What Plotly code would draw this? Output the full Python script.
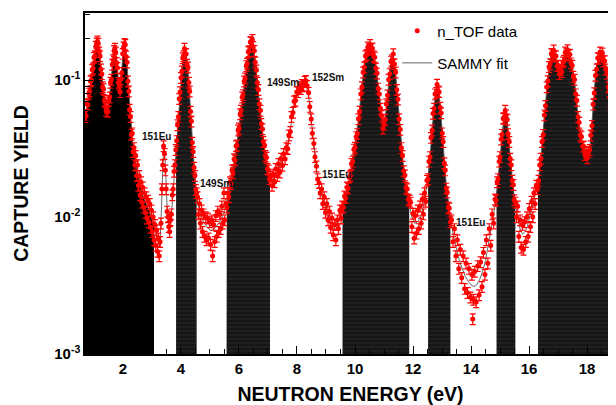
import numpy as np
import plotly.graph_objects as go

# ---------------- SAMMY fit curve ----------------
fit_energy = [0.69, 0.80, 0.90, 1.00, 1.06, 1.12, 1.18, 1.25, 1.32, 1.40, 1.46, 1.52, 1.60, 1.67, 1.72, 1.78,
              1.84, 1.90, 1.95, 2.00, 2.06, 2.12, 2.18, 2.25, 2.32, 2.40, 2.50, 2.60, 2.70, 2.80, 2.90, 3.00,
              3.10, 3.20, 3.27, 3.33, 3.38, 3.42, 3.46, 3.52, 3.58, 3.64, 3.70, 3.76, 3.82, 3.88, 3.94, 4.00,
              4.06, 4.12, 4.18, 4.24, 4.30, 4.36, 4.42, 4.48, 4.54, 4.62, 4.70, 4.80, 4.90, 5.00, 5.10, 5.20,
              5.30, 5.40, 5.50, 5.58, 5.66, 5.74, 5.82, 5.90, 5.98, 6.06, 6.14, 6.22, 6.30, 6.38, 6.43, 6.48,
              6.55, 6.62, 6.70, 6.78, 6.86, 6.94, 7.02, 7.10, 7.20, 7.30, 7.40, 7.50, 7.60, 7.70, 7.78, 7.86,
              7.94, 8.02, 8.10, 8.18, 8.26, 8.32, 8.38, 8.44, 8.50, 8.56, 8.62, 8.70, 8.78, 8.86, 8.94, 9.02,
              9.10, 9.18, 9.26, 9.32, 9.40, 9.50, 9.60, 9.70, 9.80, 9.90, 9.98, 10.06, 10.14, 10.22, 10.30, 10.38,
              10.46, 10.54, 10.62, 10.70, 10.78, 10.86, 10.92, 10.98, 11.04, 11.10, 11.16, 11.22, 11.28, 11.32, 11.38, 11.44,
              11.50, 11.56, 11.62, 11.70, 11.78, 11.86, 11.96, 12.06, 12.16, 12.26, 12.36, 12.44, 12.52, 12.60, 12.66, 12.72,
              12.78, 12.84, 12.90, 12.96, 13.02, 13.08, 13.14, 13.22, 13.30, 13.40, 13.50, 13.60, 13.70, 13.80, 13.90, 14.00,
              14.10, 14.20, 14.30, 14.40, 14.50, 14.60, 14.70, 14.80, 14.88, 14.96, 15.04, 15.10, 15.16, 15.20, 15.26, 15.32,
              15.38, 15.46, 15.54, 15.62, 15.70, 15.78, 15.86, 15.94, 16.02, 16.10, 16.18, 16.26, 16.34, 16.40, 16.46, 16.52,
              16.58, 16.64, 16.70, 16.76, 16.82, 16.88, 16.94, 17.00, 17.06, 17.12, 17.18, 17.24, 17.30, 17.36, 17.42, 17.50,
              17.58, 17.64, 17.70, 17.78, 17.86, 17.94, 18.02, 18.10, 18.16, 18.22, 18.28, 18.34, 18.40, 18.46, 18.52, 18.58,
              18.64, 18.72, 18.80, 18.88, 18.96, 19.04]
fit_yield = [0.050, 0.070, 0.100, 0.140, 0.170, 0.185, 0.165, 0.120, 0.085, 0.065, 0.060, 0.070, 0.105, 0.150, 0.165, 0.140,
             0.100, 0.085, 0.110, 0.160, 0.180, 0.150, 0.095, 0.055, 0.038, 0.028, 0.021, 0.017, 0.014, 0.0125, 0.0112, 0.0095,
             0.0080, 0.0066, 0.0060, 0.0120, 0.0260, 0.0320, 0.0250, 0.0120, 0.0090, 0.0085, 0.0130, 0.0200, 0.0300, 0.0450, 0.0700, 0.1000,
             0.1400, 0.1650, 0.1500, 0.1200, 0.0800, 0.0480, 0.0290, 0.0190, 0.0145, 0.0115, 0.0100, 0.0090, 0.0085, 0.0080, 0.0080, 0.0085,
             0.0090, 0.0098, 0.0110, 0.0125, 0.0150, 0.0190, 0.0240, 0.0310, 0.0420, 0.0580, 0.0800, 0.1100, 0.1450, 0.1800, 0.1950, 0.1850,
             0.1450, 0.1050, 0.0700, 0.0480, 0.0340, 0.0260, 0.0210, 0.0185, 0.0190, 0.0215, 0.0235, 0.0260, 0.0290, 0.0340, 0.0450, 0.0600,
             0.0720, 0.0820, 0.0870, 0.0900, 0.0950, 0.0975, 0.0850, 0.0650, 0.0480, 0.0370, 0.0280, 0.0200, 0.0160, 0.0140, 0.0125, 0.0112,
             0.0100, 0.0090, 0.0082, 0.0080, 0.0088, 0.0105, 0.0125, 0.0150, 0.0185, 0.0250, 0.0320, 0.0400, 0.0550, 0.0850, 0.1200, 0.1550,
             0.1720, 0.1750, 0.1600, 0.1350, 0.1000, 0.0720, 0.0530, 0.0450, 0.0520, 0.0700, 0.0980, 0.1250, 0.1450, 0.1500, 0.1250, 0.0880,
             0.0600, 0.0400, 0.0280, 0.0200, 0.0155, 0.0125, 0.0100, 0.0090, 0.0092, 0.0100, 0.0120, 0.0150, 0.0200, 0.0300, 0.0450, 0.0620,
             0.0800, 0.0900, 0.0800, 0.0580, 0.0400, 0.0260, 0.0180, 0.0130, 0.0095, 0.0072, 0.0058, 0.0048, 0.0042, 0.0037, 0.0034, 0.0032,
             0.0031, 0.0032, 0.0035, 0.0040, 0.0048, 0.0062, 0.0080, 0.0110, 0.0150, 0.0220, 0.0340, 0.0480, 0.0570, 0.0580, 0.0470, 0.0330,
             0.0230, 0.0160, 0.0120, 0.0095, 0.0080, 0.0075, 0.0078, 0.0085, 0.0098, 0.0115, 0.0135, 0.0160, 0.0200, 0.0260, 0.0350, 0.0500,
             0.0720, 0.0980, 0.1250, 0.1480, 0.1600, 0.1550, 0.1400, 0.1250, 0.1150, 0.1180, 0.1350, 0.1520, 0.1600, 0.1580, 0.1450, 0.1200,
             0.0950, 0.0700, 0.0520, 0.0400, 0.0330, 0.0290, 0.0280, 0.0320, 0.0450, 0.0700, 0.1000, 0.1300, 0.1480, 0.1550, 0.1520, 0.1400,
             0.1250, 0.0950, 0.0700, 0.0500, 0.0360, 0.0270]

# ---------------- n_TOF data points ----------------
data_energy = [
    0.70, 0.73, 0.76, 0.79, 0.82, 0.85, 0.88, 0.91, 0.94, 0.97, 1.00, 1.03, 1.06, 1.09, 1.12, 1.15, 1.18, 1.21,
    1.24, 1.27, 1.30, 1.33, 1.36, 1.39, 1.42, 1.45, 1.48, 1.51, 1.54, 1.57, 1.60, 1.63, 1.66, 1.69, 1.72, 1.75,
    1.78, 1.81, 1.84, 1.87, 1.90, 1.93, 1.96, 1.99, 2.02, 2.05, 2.08, 2.11, 2.14, 2.17, 2.20, 2.23, 2.26, 2.29,
    2.32, 2.35, 2.38, 2.41, 2.44, 2.47, 2.50, 2.53, 2.56, 2.59, 2.62, 2.65, 2.68, 2.71, 2.74, 2.77, 2.80, 2.83,
    2.86, 2.89, 2.92, 2.95, 2.98, 3.01, 3.04, 3.07, 3.10, 3.13, 3.16, 3.19, 3.22, 3.25, 3.28,
    3.31, 3.34, 3.37, 3.40, 3.43, 3.46, 3.49, 3.52, 3.55, 3.58, 3.61, 3.64, 3.67, 3.70, 3.73, 3.76, 3.79, 3.82, 3.85,
    3.88, 3.91, 3.94, 3.97, 4.00, 4.03, 4.06, 4.09, 4.12, 4.15, 4.18, 4.21, 4.24, 4.27, 4.30, 4.33, 4.36, 4.39,
    4.42, 4.45, 4.48, 4.51, 4.54,
    4.57, 4.60, 4.64, 4.67, 4.71, 4.74, 4.78, 4.81, 4.85, 4.88, 4.92, 4.95, 4.99, 5.02, 5.06, 5.09, 5.13, 5.16,
    5.20, 5.23, 5.27, 5.30, 5.34, 5.37, 5.41, 5.44, 5.48, 5.51, 5.55,
    5.58, 5.62, 5.65, 5.69, 5.72, 5.76, 5.79, 5.83, 5.86, 5.90, 5.93, 5.97, 6.00, 6.04, 6.07, 6.11, 6.14, 6.18,
    6.21, 6.25, 6.28, 6.32, 6.35, 6.39, 6.42, 6.46, 6.49, 6.53, 6.56, 6.60, 6.63, 6.67, 6.70, 6.74, 6.77, 6.81,
    6.84, 6.88, 6.91, 6.95, 6.98, 7.02, 7.05, 7.09,
    7.14, 7.18, 7.23, 7.27, 7.32, 7.36, 7.41, 7.45, 7.50, 7.54, 7.59, 7.63, 7.68, 7.72, 7.77, 7.81, 7.86, 7.90,
    7.95, 7.99, 8.04, 8.08, 8.13, 8.17, 8.22, 8.26, 8.31, 8.35, 8.40, 8.44, 8.49, 8.53, 8.58, 8.62, 8.67, 8.71,
    8.76, 8.80, 8.85, 8.89, 8.94, 8.98, 9.03, 9.07, 9.12, 9.16, 9.21, 9.25, 9.30, 9.34, 9.39, 9.43, 9.48, 9.52,
    9.56, 9.60, 9.64, 9.68, 9.72, 9.76, 9.80, 9.84, 9.88, 9.92, 9.96, 10.00, 10.04, 10.08, 10.12, 10.16, 10.20, 10.24,
    10.28, 10.32, 10.36, 10.40, 10.44, 10.48, 10.52, 10.56, 10.60, 10.64, 10.68, 10.72, 10.76, 10.80, 10.84, 10.88, 10.92, 10.96,
    11.00, 11.04, 11.08, 11.12, 11.16, 11.20, 11.24, 11.28, 11.32, 11.36, 11.40, 11.44, 11.48, 11.52, 11.56, 11.60, 11.64, 11.68,
    11.72, 11.76, 11.80, 11.84, 11.88,
    11.92, 11.96, 12.00, 12.04, 12.08, 12.12, 12.16, 12.20, 12.24, 12.28, 12.32, 12.36, 12.40, 12.44, 12.48,
    12.52, 12.55, 12.59, 12.62, 12.66, 12.69, 12.73, 12.76, 12.80, 12.83, 12.87, 12.90, 12.94, 12.97, 13.01, 13.04, 13.08, 13.11,
    13.15, 13.18, 13.22, 13.25, 13.29,
    13.33, 13.38, 13.43, 13.48, 13.53, 13.58, 13.63, 13.68, 13.73, 13.78, 13.83, 13.88, 13.93, 13.98, 14.03, 14.06, 14.08, 14.13,
    14.18, 14.23, 14.28, 14.33, 14.38, 14.43, 14.48, 14.53, 14.58, 14.63, 14.68, 14.73, 14.78, 14.83,
    14.86, 14.90, 14.93, 14.97, 15.00, 15.04, 15.07, 15.11, 15.14, 15.18, 15.21, 15.25, 15.28, 15.32, 15.35, 15.39, 15.42, 15.46,
    15.49, 15.53,
    15.57, 15.61, 15.65, 15.69, 15.73, 15.77, 15.81, 15.85, 15.89, 15.93, 15.97, 16.01, 16.05, 16.09, 16.13, 16.17, 16.21, 16.25, 16.29,
    16.33, 16.37, 16.41, 16.45, 16.49, 16.53, 16.57, 16.61, 16.65, 16.69, 16.73, 16.77, 16.81, 16.85, 16.89, 16.93, 16.97, 17.01,
    17.05, 17.09, 17.13, 17.17, 17.21, 17.25, 17.29, 17.33, 17.37, 17.41, 17.45, 17.49, 17.53, 17.57, 17.61, 17.65, 17.69, 17.73,
    17.77, 17.81, 17.85, 17.89, 17.93, 17.97, 18.01, 18.05, 18.09, 18.13, 18.17, 18.21, 18.25, 18.29, 18.33, 18.37, 18.41, 18.45,
    18.49, 18.53, 18.57, 18.61, 18.65, 18.69, 18.73, 18.77, 18.81, 18.85, 18.89, 18.93, 18.97]
data_yield = [
    0.054, 0.055, 0.067, 0.066, 0.080, 0.083, 0.098, 0.100, 0.119, 0.122, 0.146, 0.150, 0.176, 0.186, 0.192, 0.185, 0.160, 0.150,
    0.120, 0.111, 0.089, 0.086, 0.071, 0.069, 0.060, 0.063, 0.059, 0.071, 0.075, 0.096, 0.101, 0.130, 0.140, 0.164, 0.170, 0.160,
    0.134, 0.123, 0.096, 0.093, 0.082, 0.102, 0.113, 0.156, 0.174, 0.184, 0.181, 0.149, 0.135, 0.098, 0.083, 0.061, 0.054, 0.040,
    0.041, 0.030, 0.032, 0.024, 0.028, 0.020, 0.024, 0.017, 0.020, 0.0145, 0.018, 0.0128, 0.0165, 0.0118, 0.0150, 0.0108, 0.0140, 0.0098,
    0.0132, 0.0092, 0.0125, 0.0084, 0.0112, 0.0078, 0.0100, 0.0068, 0.0088, 0.0062, 0.0080, 0.0056, 0.0070, 0.0052, 0.0066,
    0.0090, 0.0160, 0.0240, 0.0330, 0.0290, 0.0220, 0.0160, 0.0110, 0.0100, 0.0085, 0.0078, 0.0095, 0.0105, 0.0145, 0.0160, 0.0215, 0.0240, 0.0310, 0.0360,
    0.047, 0.054, 0.073, 0.082, 0.104, 0.116, 0.145, 0.150, 0.170, 0.156, 0.155, 0.130, 0.124, 0.096, 0.083, 0.059, 0.050, 0.035,
    0.030, 0.023, 0.020, 0.0158, 0.0150,
    0.0140, 0.0105, 0.0125, 0.0090, 0.0112, 0.0078, 0.0105, 0.0072, 0.0100, 0.0068, 0.0098, 0.0070, 0.0092, 0.0063, 0.0095, 0.0052, 0.0088, 0.0066,
    0.0102, 0.0072, 0.0110, 0.0078, 0.0105, 0.0082, 0.0120, 0.0090, 0.0150, 0.0095, 0.0125,
    0.0118, 0.0150, 0.0140, 0.0180, 0.0175, 0.0220, 0.0210, 0.0265, 0.0260, 0.0330, 0.0335, 0.0430, 0.0445, 0.0565, 0.0600, 0.0750, 0.0780, 0.0980,
    0.1030, 0.1270, 0.1320, 0.1610, 0.1630, 0.1900, 0.1880, 0.1970, 0.1750, 0.1640, 0.1350, 0.1180, 0.0960, 0.0850, 0.0670, 0.0600, 0.0480, 0.0440,
    0.0355, 0.0335, 0.0280, 0.0272, 0.0225, 0.0220, 0.0190, 0.0198,
    0.0170, 0.0205, 0.0180, 0.0225, 0.0200, 0.0245, 0.0212, 0.0268, 0.0238, 0.0290, 0.0265, 0.0320, 0.0315, 0.0395, 0.0420, 0.0540, 0.0580, 0.0700,
    0.0710, 0.0820, 0.0820, 0.0890, 0.0865, 0.0925, 0.0905, 0.0975, 0.0990, 0.0910, 0.0810, 0.0640, 0.0520, 0.0410, 0.0345, 0.0275, 0.0235, 0.0190,
    0.0178, 0.0150, 0.0160, 0.0125, 0.0140, 0.0108, 0.0125, 0.0095, 0.0110, 0.0084, 0.0098, 0.0074, 0.0088, 0.0068, 0.0095, 0.0082, 0.0112, 0.0098,
    0.0120, 0.0118, 0.0142, 0.0138, 0.0165, 0.0162, 0.0195, 0.0200, 0.0245, 0.0255, 0.0312, 0.0322, 0.0385, 0.0405, 0.0520, 0.0590, 0.0790, 0.0890,
    0.1140, 0.1240, 0.1500, 0.1530, 0.1740, 0.1680, 0.1810, 0.1680, 0.1710, 0.1500, 0.1470, 0.1220, 0.1120, 0.0870, 0.0790, 0.0620, 0.0550, 0.0445,
    0.0475, 0.0515, 0.0670, 0.0775, 0.1010, 0.1110, 0.1370, 0.1400, 0.1550, 0.1310, 0.1140, 0.0850, 0.0725, 0.0520, 0.0435, 0.0320, 0.0280, 0.0217,
    0.0202, 0.0164, 0.0160, 0.0135, 0.0132,
    0.0128, 0.0085, 0.0106, 0.0070, 0.0102, 0.0076, 0.0112, 0.0082, 0.0120, 0.0090, 0.0135, 0.0105, 0.0150, 0.0130, 0.0185,
    0.0190, 0.0255, 0.0275, 0.0380, 0.0430, 0.0570, 0.0620, 0.0790, 0.0810, 0.0930, 0.0830, 0.0820, 0.0630, 0.0575, 0.0410, 0.0355, 0.0248, 0.0220,
    0.0162, 0.0152, 0.0118, 0.0116, 0.0092,
    0.0095, 0.0066, 0.0082, 0.0052, 0.0068, 0.0042, 0.0058, 0.0036, 0.0052, 0.0030, 0.0046, 0.0028, 0.0042, 0.0026, 0.0038, 0.0018, 0.0025, 0.0040,
    0.0024, 0.0044, 0.0027, 0.0047, 0.0031, 0.0055, 0.0038, 0.0068, 0.0046, 0.0082, 0.0062, 0.0105, 0.0090, 0.0135,
    0.0132, 0.0180, 0.0190, 0.0255, 0.0275, 0.0370, 0.0400, 0.0525, 0.0530, 0.0600, 0.0555, 0.0515, 0.0405, 0.0355, 0.0268, 0.0240, 0.0185, 0.0172,
    0.0133, 0.0128,
    0.0100, 0.0120, 0.0072, 0.0095, 0.0060, 0.0088, 0.0058, 0.0092, 0.0066, 0.0100, 0.0072, 0.0115, 0.0085, 0.0130, 0.0100, 0.0150, 0.0125, 0.0170, 0.0160,
    0.0185, 0.0240, 0.0268, 0.0355, 0.0400, 0.0555, 0.0650, 0.0890, 0.0985, 0.1250, 0.1310, 0.1560, 0.1520, 0.1650, 0.1490, 0.1500, 0.1270, 0.1280,
    0.1110, 0.1190, 0.1150, 0.1350, 0.1390, 0.1600, 0.1550, 0.1660, 0.1520, 0.1540, 0.1330, 0.1280, 0.1060, 0.1010, 0.0790, 0.0710, 0.0540, 0.0490,
    0.0395, 0.0385, 0.0328, 0.0328, 0.0285, 0.0296, 0.0270, 0.0300, 0.0310, 0.0395, 0.0465, 0.0665, 0.0805, 0.1080, 0.1200, 0.1450, 0.1440, 0.1600,
    0.1500, 0.1570, 0.1380, 0.1380, 0.1200, 0.1120, 0.0890, 0.0830, 0.0675, 0.0620, 0.0485, 0.0435, 0.0360]

# energy windows where the fit is shaded black
fill_start = [0.69, 3.83, 5.57, 9.57, 12.52, 14.88, 16.31]
fill_end = [3.07, 4.54, 7.07, 11.87, 13.29, 15.53, 19.10]

# x / y ticks
x_tick_values = [2, 4, 6, 8, 10, 12, 14, 16, 18]
y_tick_values = [1e-3, 1e-2, 1e-1]
y_tick_text = ["10<sup>-3</sup>", "10<sup>-2</sup>", "10<sup>-1</sup>"]

# isotope labels
label_text = ["151Eu", "149Sm", "152Sm", "149Sm", "151Eu", "151Eu"]
label_energy = [3.17, 7.51, 9.08, 5.19, 9.37, 13.97]
label_yield = [0.039, 0.0966, 0.105, 0.0177, 0.0206, 0.0092]

X_RANGE = [0.69, 19.0]
Y_RANGE = [-3, -0.51]
FONT = "Liberation Sans, Arial, sans-serif"

fig = go.Figure()

fe = np.array(fit_energy)
fy = np.array(fit_yield)
base = 10 ** (Y_RANGE[0] - 0.2)
for i, (a, b) in enumerate(zip(fill_start, fill_end)):
    m = (fe > a) & (fe < b)
    ya = 10 ** np.interp(a, fe, np.log10(fy))
    yb = 10 ** np.interp(b, fe, np.log10(fy))
    xs = [a, a] + list(fe[m]) + [b, b]
    ys = [base, ya] + list(fy[m]) + [yb, base]
    if i == 0:
        fig.add_trace(go.Scatter(x=xs, y=ys, mode="lines", fill="toself", fillcolor="#000000",
                                 line=dict(width=0, color="#000000"), hoverinfo="skip", showlegend=False))
    else:
        fig.add_trace(go.Scatter(x=xs, y=ys, mode="lines", fill="toself", fillcolor="#1a1a1a",
                                 fillpattern=dict(shape="-", bgcolor="#161616", fgcolor="#3c3c3c",
                                                  size=4, solidity=0.25),
                                 line=dict(width=0, color="#1a1a1a"), hoverinfo="skip", showlegend=False))

fig.add_trace(go.Scatter(x=fit_energy, y=fit_yield, mode="lines", name="SAMMY fit",
                         line=dict(color="#555555", width=0.9), legend="legend2"))

fig.add_trace(go.Scatter(x=data_energy, y=data_yield, mode="markers", name="n_TOF data",
                         marker=dict(color="#ff0000", size=5, symbol="circle"),
                         error_y=dict(type="percent", value=9, color="#ff0000", thickness=1.2, width=3),
                         legend="legend"))

for t, e, y in zip(label_text, label_energy, label_yield):
    fig.add_annotation(x=e, y=np.log10(y), text=t, showarrow=False,
                       font=dict(family=FONT, size=10, color="#111111", weight="bold"))

# the page adds an 8 px body margin, so the figure is 8 px smaller and shifted
fig.update_layout(
    width=608, height=397,
    margin=dict(l=77, r=0, t=5, b=51),
    paper_bgcolor="white", plot_bgcolor="white",
    font=dict(family=FONT, color="black"),
    legend=dict(x=0.588, y=0.947, xanchor="left", yanchor="middle", bgcolor="rgba(0,0,0,0)",
                font=dict(family=FONT, size=15, color="black"), itemwidth=30),
    legend2=dict(x=0.588, y=0.853, xanchor="left", yanchor="middle", bgcolor="rgba(0,0,0,0)",
                 font=dict(family=FONT, size=15, color="black"), itemwidth=30),
)

fig.update_xaxes(range=X_RANGE, tickvals=x_tick_values, ticks="inside", ticklen=8, tickwidth=1.2,
                 tickcolor="black", showline=True, linecolor="black", linewidth=1.5, mirror=True,
                 showgrid=False, zeroline=False, automargin=False,
                 tickfont=dict(family=FONT, size=15, color="black", weight="bold"),
                 minor=dict(dtick=0.5, ticks="inside", ticklen=5, tickcolor="black", showgrid=False),
                 title=dict(text="NEUTRON ENERGY (eV)", standoff=15,
                            font=dict(family=FONT, size=19.5, color="black", weight="bold")))
fig.update_yaxes(type="log", range=Y_RANGE, tickvals=y_tick_values, ticktext=y_tick_text,
                 ticks="inside", ticklen=8, tickwidth=1.2, tickcolor="black",
                 showline=True, linecolor="black", linewidth=1.5, mirror=False,
                 showgrid=False, zeroline=False, automargin=False, ticklabelstandoff=0,
                 tickfont=dict(family=FONT, size=15, color="black", weight="bold"),
                 minor=dict(dtick="D1", ticks="inside", ticklen=5, tickcolor="black", showgrid=False),
                 title=dict(text="CAPTURE YIELD", standoff=20,
                            font=dict(family=FONT, size=19.5, color="black", weight="bold")))

fig.write_html("out.html")
